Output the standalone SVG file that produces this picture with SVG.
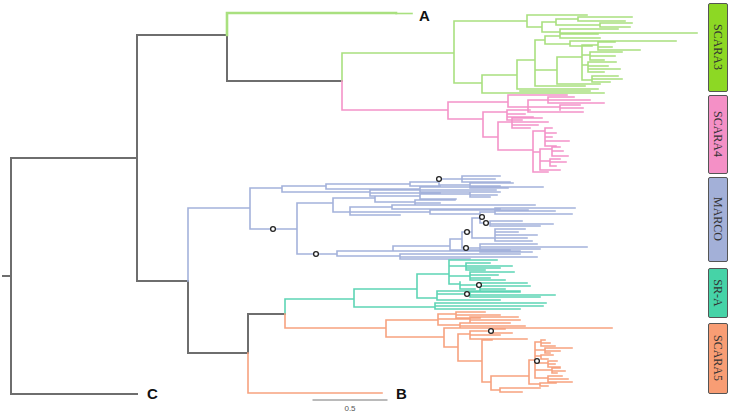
<svg xmlns="http://www.w3.org/2000/svg" width="734" height="414" viewBox="0 0 734 414">
<style>
path{fill:none;stroke-linecap:square}
.g{stroke:#6e6e6e;stroke-width:2}
.s3{stroke:#a9e07f;stroke-width:1.6}
.s4{stroke:#f493c9;stroke-width:1.6}
.mc{stroke:#a4b2db;stroke-width:1.6}
.sr{stroke:#5dd5b5;stroke-width:1.6}
.s5{stroke:#f7a27f;stroke-width:1.6}
.dot{fill:#fff;stroke:#222;stroke-width:1.3}
.box{stroke:#555;stroke-width:1}
.bt{font-family:"Liberation Serif",serif;font-size:12px;fill:#333;text-anchor:middle;dominant-baseline:central}
.lbl{font-family:"Liberation Sans",Arial,sans-serif;font-size:15px;font-weight:bold;fill:#111}
.sc{font-family:"Liberation Sans",Arial,sans-serif;font-size:8px;fill:#555;text-anchor:middle}
</style>
<rect width="734" height="414" fill="#fff"/>
<g id="connectors">
<path class="g" d="M3,276 H11 M11,158 V394 M11,394 H137 M11,158 H137 M137,35 V281 M137,35 H227 M227,35 V81 M227,81 H342 M137,281 H188 M188,281 V353 M188,353 H248 M248,314 V353 M248,314 H285"/>
</g>
<g id="outgroup-A">
<path class="s3" style="stroke-width:2.6" d="M227,35 V13 H396"/>
<path class="s3" d="M396,13.5 H412"/>
<text class="lbl" x="419" y="20.5">A</text>
</g>
<g id="outgroup-C">
<text class="lbl" x="147" y="399">C</text>
</g>
<g id="outgroup-B">
<path class="s5" d="M248,353 V393 H382"/>
<text class="lbl" x="396" y="399">B</text>
</g>
<g id="clade-SCARA3">
<path class="s3" d="M342,81 V53 H454 M454,21 V83 M454,21 H527 M527,15 V27 M527,15 H587 M527,27 H542 M542,22 V32
M542,22 H556 M556,19 V25 M556,19 H578 M578,17 V21 M578,17 H632 M578,21 H625 M556,25 H600 M600,23 V27 M600,23 H632 M600,27 H630
M542,32 H560 M560,29 V34 M560,29 H618 M560,34 H598
M454,83 H482 M482,75 V93 M482,93 H604 M520,91 H590 M560,89 H598
M482,75 H517 M517,60 V89 M517,89 H596 M517,60 H535 M535,40 V86 M535,86 H585
M535,40 H545 M545,36 V44 M545,36 H560 M560,33 V38 M560,33 H697 M560,38 H600 M545,44 H570 M570,41 V46 M570,41 H676 M570,46 H592
M535,70 H557 M557,57 V84 M557,84 H600 M557,57 H582 M582,45 V80
M582,45 H598 M598,42 V50 M598,42 H615 M598,47 H612 M598,50 H640
M582,55 H590 M590,52 V60 M590,52 H622 M590,56 H615 M590,60 H604
M582,65 H588 M588,62 V72 M588,62 H616 M588,66 H608 M588,69 H620 M588,72 H604
M582,80 H592 M592,76 V82 M592,76 H618 M592,79 H622 M592,82 H610"/>
</g>
<g id="clade-SCARA4">
<path class="s4" d="M342,81 V110 H448 M448,102 V119 M448,102 H508 M508,95 V107 M508,95 H567
M508,107 H528 M528,100 V112 M528,100 H548 M548,97 V103 M548,97 H574 M548,100 H590 M548,103 H604 M528,107 H560 M560,105 V110 M560,105 H580 M560,108 H583 M528,112 H583
M448,119 H483 M483,112 V137 M483,112 H507 M507,110 V120 M507,110 H530 M507,114 H525 M507,117 H533 M507,120 H522
M483,137 H498 M498,122 V150 M498,122 H512 M512,118 V128 M512,118 H542 M512,122 H548 M512,125 H538 M512,128 H530
M498,150 H533 M533,131 V172
M533,131 H545 M545,128 V146 M545,128 H552 M545,133 H556 M545,137 H552 M545,141 H569 M545,146 H556
M533,152 H540 M540,149 V170 M540,149 H552 M552,147 V156 M552,147 H560 M552,151 H563 M552,156 H568 M540,161 H550 M550,159 V166 M550,159 H560 M550,162 H566 M550,166 H556 M540,170 H560 M533,172 H548"/>
</g>
<g id="clade-MARCO">
<path class="mc" d="M188,281 V208 H250 M250,188 V229 M250,188 H282 M250,229 H297
M282,186 V192 M282,186 H326 M326,184 V189 M326,184 H410 M410,182 V186 M410,182 H439 M439,179 V185 M439,179 H462 M462,176 V182 M462,176 H500 M462,179 H495 M462,182 H510 M439,185 H470 M470,183 V188 M470,183 H513 M470,186 H500 M470,188 H508 M410,186 H440
M326,189 H420 M420,187 V192 M420,187 H543 M420,190 H496 M420,192 H470
M282,192 H370 M370,190 V196 M370,190 H455 M370,193 H440 M370,196 H420
M297,203 V254 M297,203 H333 M333,198 V212
M333,198 H375 M375,196 V202 M375,196 H420 M420,194 V199 M420,194 H470 M470,192 V197 M470,192 H500 M470,195 H497 M470,197 H490 M420,199 H456 M375,202 H415 M415,200 V205 M415,200 H455 M415,203 H440 M415,205 H535
M333,212 H350 M350,207 V215 M350,207 H392 M392,205 V209 M392,205 H460 M392,209 H500 M350,212 H430 M430,210 V214 M430,210 H528 M430,214 H480 M350,215 H400
M297,254 H337 M337,251 V256 M337,251 H393 M393,246 V251 M393,246 H450 M393,251 H520 M450,239 V250 M450,250 H510
M450,239 H462 M462,232 V248 M462,232 H472 M472,218 V238
M472,218 H480 M480,212 V223 M480,212 H495 M495,208 V214 M495,208 H575 M495,211 H555 M495,214 H572
M480,223 H490 M490,221 V226 M490,221 H522 M490,224 H553 M490,226 H540
M472,238 H495 M495,229 V241 M495,229 H525 M495,232 H518 M495,235 H537 M495,238 H527 M495,241 H532
M462,248 H480 M480,244 V252 M480,244 H537 M480,247 H587 M480,249 H540 M480,252 H532
M337,256 H400 M400,254 V259 M400,254 H520 M400,257 H537 M400,259 H470"/>
</g>
<g id="clade-SR-A">
<path class="sr" d="M285,314 V299 H354 M354,289 V307 M354,289 H417 M417,274 V298
M417,274 H449 M449,260 V284 M449,260 H497
M449,266 H466 M466,263 V270 M466,263 H490 M466,266 H512 M466,268 H500 M466,270 H485
M449,276 H470 M470,272 V280 M470,272 H514 M470,275 H498 M470,278 H490 M470,280 H505
M449,284 H460 M460,282 V289 M460,285 H480 M480,283 V291 M480,283 H527 M480,286 H530 M480,289 H505 M480,291 H520 M460,289 H475
M417,298 H437 M437,291 V300 M437,291 H480 M437,294 H470 M470,292 V297 M470,292 H520 M470,295 H555 M470,297 H540 M437,300 H500
M354,307 H435 M435,303 V309 M435,303 H546 M435,306 H543 M435,309 H520"/>
</g>
<g id="clade-SCARA5">
<path class="s5" d="M285,314 V328 H386 M386,320 V337 M386,320 H438 M438,314 V325
M438,314 H456 M456,312 V318 M456,312 H485 M456,315 H500 M456,318 H480
M438,319 H470 M470,317 V323 M470,317 H518 M470,320 H520 M470,323 H505
M438,325 H460 M460,323 V328 M460,323 H510 M460,326 H525
M386,337 H444 M444,328 V347 M444,328 H612 M444,347 H458 M458,334 V361
M458,334 H470 M470,331 V339 M470,331 H491 M491,329 V333 M491,329 H505 M491,333 H512 M470,335 H500 M470,339 H527
M458,361 H482 M482,340 V382 M482,340 H492 M482,382 H491 M491,376 V390 M491,390 H500 M500,388 V392 M500,388 H540 M500,392 H522
M491,376 H529 M529,360 V384 M529,360 H535 M535,342 V378
M535,342 H541 M541,340 V346 M541,340 H545 M541,343 H550 M541,346 H555
M535,350 H545 M545,348 V353 M545,348 H572 M545,351 H560 M545,353 H550
M535,356 H541 M541,355 V359 M541,355 H553 M541,359 H548
M535,363 H548 M548,361 V367 M548,361 H557 M548,364 H555 M548,367 H560
M535,370 H552 M552,368 V373 M552,368 H560 M552,371 H565 M552,373 H557
M535,378 H548 M548,376 V382 M548,376 H562 M548,379 H568 M548,382 H572
M529,384 H540 M540,383 V386 M540,383 H556 M540,386 H548"/>
</g>
<g id="support-dots">
<circle class="dot" cx="439" cy="179" r="2.4"/>
<circle class="dot" cx="273" cy="229" r="2.4"/>
<circle class="dot" cx="316" cy="254" r="2.4"/>
<circle class="dot" cx="482" cy="217" r="2.4"/>
<circle class="dot" cx="486" cy="223" r="2.4"/>
<circle class="dot" cx="467" cy="232" r="2.4"/>
<circle class="dot" cx="466" cy="248" r="2.4"/>
<circle class="dot" cx="479" cy="285" r="2.4"/>
<circle class="dot" cx="467" cy="294" r="2.4"/>
<circle class="dot" cx="491" cy="331" r="2.4"/>
<circle class="dot" cx="537" cy="361" r="2.4"/>
</g>
<g id="scale-bar">
<path d="M313,400 H387" stroke="#777" stroke-width="1"/>
<text class="sc" x="350" y="411">0.5</text>
</g>
<g id="legend-SCARA3"><rect class="box" x="708.5" y="3.5" width="19" height="88" rx="1.5" fill="#8dd824"/><text class="bt" transform="translate(718,47) rotate(90)">SCARA3</text></g>
<g id="legend-SCARA4"><rect class="box" x="708.5" y="95.5" width="19" height="78" rx="1.5" fill="#f490c6"/><text class="bt" transform="translate(718,134) rotate(90)">SCARA4</text></g>
<g id="legend-MARCO"><rect class="box" x="708.5" y="177.5" width="19" height="84" rx="1.5" fill="#a3b0d8"/><text class="bt" transform="translate(718,219) rotate(90)">MARCO</text></g>
<g id="legend-SR-A"><rect class="box" x="708.5" y="268.5" width="19" height="49" rx="1.5" fill="#46d3a7"/><text class="bt" transform="translate(718,293) rotate(90)">SR-A</text></g>
<g id="legend-SCARA5"><rect class="box" x="708.5" y="323.5" width="19" height="70" rx="1.5" fill="#f89d74"/><text class="bt" transform="translate(718,358) rotate(90)">SCARA5</text></g>
</svg>
